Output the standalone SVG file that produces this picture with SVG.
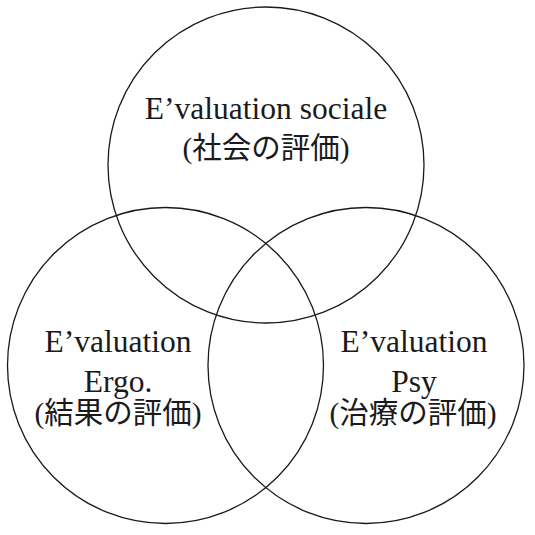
<svg xmlns="http://www.w3.org/2000/svg" width="535" height="535" viewBox="0 0 535 535">
  <style>
    .ring { fill: none; stroke: #1a1a1a; stroke-width: 1.3; }
    .lbl { font-family: "Liberation Serif", "Noto Sans CJK JP", serif; font-size: 31.5px; fill: #1a1a1a; text-anchor: middle; }
    .jp { font-size: 29.5px; }
  </style>
  <rect width="535" height="535" fill="#ffffff"/>
  <g id="social">
    <circle class="ring" cx="266" cy="165" r="158"/>
    <text class="lbl" x="266" y="119">E’valuation sociale</text>
    <text class="lbl jp" x="266" y="158">(社会の評価)</text>
  </g>
  <g id="ergo">
    <circle class="ring" cx="165.5" cy="365.5" r="158"/>
    <text class="lbl" x="118" y="352">E’valuation</text>
    <text class="lbl" x="118" y="392">Ergo.</text>
    <text class="lbl jp" x="118" y="423">(結果の評価)</text>
  </g>
  <g id="psy">
    <circle class="ring" cx="366" cy="365.5" r="158"/>
    <text class="lbl" x="414" y="352">E’valuation</text>
    <text class="lbl" x="414" y="392">Psy</text>
    <text class="lbl jp" x="413" y="423">(治療の評価)</text>
  </g>
  <g id="connectors"/>
</svg>
